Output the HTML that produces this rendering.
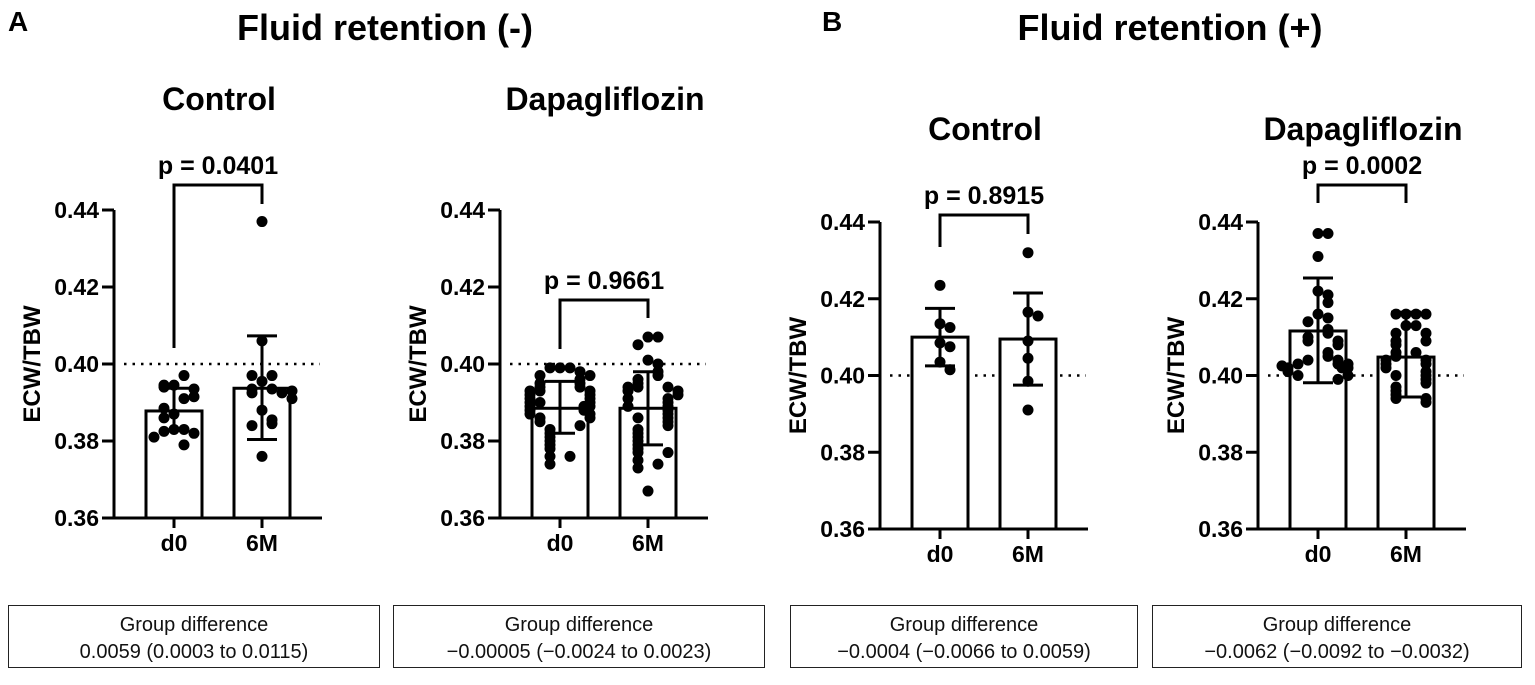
<!DOCTYPE html>
<html><head><meta charset="utf-8"><style>
body{margin:0;background:#fff;width:1535px;height:685px;overflow:hidden;font-family:"Liberation Sans",Arial,sans-serif}
.box{position:absolute;border:1.5px solid #222;text-align:center;font-size:20px;line-height:27px;color:#111;box-sizing:border-box;padding-top:6px}
</style></head><body>
<svg id="chart" width="1535" height="685" style="position:absolute;left:0;top:0" font-family="Liberation Sans, Arial, sans-serif">
<text x="8" y="31" font-size="28" font-weight="bold">A</text>
<text x="385" y="40" font-size="36" font-weight="bold" text-anchor="middle">Fluid retention (-)</text>
<text x="822" y="31" font-size="28" font-weight="bold">B</text>
<text x="1170" y="40" font-size="36" font-weight="bold" text-anchor="middle">Fluid retention (+)</text>
</svg>
<div class="box" style="left:8px;top:605px;width:372px;height:63px">Group difference<br>0.0059 (0.0003 to 0.0115)</div>
<div class="box" style="left:393px;top:605px;width:372px;height:63px">Group difference<br>−0.00005 (−0.0024 to 0.0023)</div>
<div class="box" style="left:790px;top:605px;width:348px;height:63px">Group difference<br>−0.0004 (−0.0066 to 0.0059)</div>
<div class="box" style="left:1152px;top:605px;width:370px;height:63px">Group difference<br>−0.0062 (−0.0092 to −0.0032)</div>
<script>
const categories=["d0","6M"];
const yTicks=[0.36,0.38,0.40,0.42,0.44];
const refLine=0.40;
const aCtrlD0=[0.3945,0.397,0.3945,0.394,0.3935,0.391,0.3915,0.387,0.3885,0.386,0.383,0.383,0.3825,0.382,0.381,0.379];
const aCtrl6M=[0.437,0.406,0.3955,0.3935,0.3935,0.397,0.397,0.3925,0.3925,0.393,0.391,0.388,0.3855,0.3845,0.384,0.376];
const aCtrlMean=[0.3878,0.3937];
const aCtrlSD=[[0.3828,0.3937],[0.3804,0.4073]];
const aDapaD0=[0.399,0.399,0.399,0.398,0.397,0.397,0.396,0.395,0.395,0.394,0.394,0.393,0.393,0.393,0.392,0.392,0.391,0.391,0.390,0.390,0.390,0.389,0.389,0.389,0.388,0.388,0.387,0.387,0.386,0.386,0.385,0.384,0.383,0.382,0.381,0.380,0.379,0.378,0.376,0.376,0.374];
const aDapa6M=[0.407,0.407,0.405,0.401,0.400,0.398,0.397,0.396,0.395,0.394,0.394,0.394,0.393,0.393,0.392,0.391,0.391,0.390,0.389,0.389,0.388,0.387,0.386,0.386,0.385,0.384,0.383,0.382,0.381,0.380,0.379,0.378,0.377,0.377,0.375,0.374,0.373,0.367];
const aDapaMean=[0.3885,0.3885];
const aDapaSD=[[0.382,0.3955],[0.379,0.398]];
const bCtrlD0=[0.4235,0.4135,0.4125,0.4085,0.4075,0.4035,0.4015];
const bCtrl6M=[0.432,0.4165,0.4155,0.409,0.4045,0.3985,0.391];
const bCtrlMean=[0.410,0.4095];
const bCtrlSD=[[0.4025,0.4175],[0.3975,0.4215]];
const bDapaD0=[0.437,0.437,0.431,0.422,0.421,0.419,0.416,0.415,0.414,0.412,0.411,0.410,0.409,0.409,0.408,0.406,0.405,0.404,0.404,0.403,0.403,0.403,0.402,0.402,0.402,0.401,0.400,0.400,0.399,0.4025];
const bDapa6M=[0.416,0.416,0.416,0.416,0.413,0.413,0.411,0.411,0.409,0.409,0.408,0.406,0.406,0.405,0.404,0.404,0.403,0.403,0.402,0.401,0.400,0.400,0.399,0.398,0.397,0.396,0.395,0.394,0.394,0.393];
const bDapaMean=[0.4116,0.4048];
const bDapaSD=[[0.3981,0.4254],[0.3944,0.4165]];
const pLabels=["p = 0.0401","p = 0.9661","p = 0.8915","p = 0.0002"];
const NS="http://www.w3.org/2000/svg";
const svg=document.getElementById('chart');
function mk(t,a,p){const e=document.createElementNS(NS,t);for(const k in a)e.setAttribute(k,a[k]);(p||svg).appendChild(e);return e;}
function panel(o){
  const g=mk('g',{});
  
  
  const y=v=>o.y0-(v-0.36)/0.08*(o.y0-o.y1);
  const cx=i=>o.ax+60+i*88;
  const st={stroke:'#000','stroke-width':3,fill:'none'};
  const t=mk('text',{x:o.ax+105,y:o.ty,'font-size':32,'font-weight':'bold','text-anchor':'middle'},g);t.textContent=o.title;
  
  
  const yt=mk('text',{x:0,y:0,'font-size':24,'font-weight':'bold','text-anchor':'middle',transform:`translate(${o.ax-74},${(o.y0+o.y1)/2}) rotate(-90)`},g);yt.textContent='ECW/TBW';
  
  
  const rl=mk('line',{x1:o.ax+10,x2:o.ax+206,y1:y(refLine),y2:y(refLine),stroke:'#000','stroke-width':2.5,'stroke-dasharray':'2.5 6'},g);
  
  
  o.mean.forEach((m,i)=>{
    const b=mk('rect',{x:cx(i)-28,y:y(m),width:56,height:o.y0-y(m),fill:'#fff',stroke:'#000','stroke-width':3},g);
    
    
  });
  [o.d0,o.m6].forEach((arr,i)=>{
    const placed=[];
    arr.forEach(v=>{
      const py=y(v);
      const near=placed.filter(p=>Math.abs(p-py)<10).length;
      let dx=near===0?0:((near%2?1:-1)*Math.ceil(near/2)*10);
      if(Math.abs(dx)>32)dx=dx*0.6;
      placed.push(py);
      const c=mk('circle',{cx:cx(i)+dx,cy:py,r:5.5,fill:'#000'},g);
      
      
    });
  });
  o.sd.forEach((s,i)=>{
    const e=mk('path',{d:`M${cx(i)} ${y(s[0])}V${y(s[1])}M${cx(i)-15} ${y(s[0])}H${cx(i)+15}M${cx(i)-15} ${y(s[1])}H${cx(i)+15}`,...st},g);
    
    
  });
  const ax=mk('path',{d:`M${o.ax} ${o.y1}V${o.y0}H${o.ax+208}M${cx(0)} ${o.y0}v10M${cx(1)} ${o.y0}v10`,...st},g);
  
  
  yTicks.forEach(v=>{
    mk('line',{x1:o.ax-12,x2:o.ax,y1:y(v),y2:y(v),stroke:'#000','stroke-width':3},g);
    const l=mk('text',{x:o.ax-15,y:y(v)+8,'font-size':23,'font-weight':'bold','text-anchor':'end'},g);l.textContent=v.toFixed(2);
    
    
  });
  categories.forEach((c,i)=>{
    const l=mk('text',{x:cx(i),y:o.y0+33,'font-size':23,'font-weight':'bold','text-anchor':'middle'},g);l.textContent=c;
    
    
  });
  const br=mk('path',{d:`M${cx(0)} ${o.bl}V${o.by}H${cx(1)}V${o.br}`,...st},g);
  
  
  const p=mk('text',{x:(cx(0)+cx(1))/2,y:o.by-11,'font-size':25,'font-weight':'bold','text-anchor':'middle'},g);p.textContent=o.p;
  
  
}
panel({name:'panel-a-control',title:'Control',ax:114,y0:518,y1:210,ty:110,d0:aCtrlD0,m6:aCtrl6M,mean:aCtrlMean,sd:aCtrlSD,by:185,bl:348,br:204,p:pLabels[0]});
panel({name:'panel-a-dapagliflozin',title:'Dapagliflozin',ax:500,y0:518,y1:210,ty:110,d0:aDapaD0,m6:aDapa6M,mean:aDapaMean,sd:aDapaSD,by:300,bl:349,br:318,p:pLabels[1]});
panel({name:'panel-b-control',title:'Control',ax:880,y0:529,y1:222,ty:140,d0:bCtrlD0,m6:bCtrl6M,mean:bCtrlMean,sd:bCtrlSD,by:215,bl:247,br:234,p:pLabels[2]});
panel({name:'panel-b-dapagliflozin',title:'Dapagliflozin',ax:1258,y0:529,y1:222,ty:140,d0:bDapaD0,m6:bDapa6M,mean:bDapaMean,sd:bDapaSD,by:185,bl:203,br:203,p:pLabels[3]});
</script>
</body></html>
